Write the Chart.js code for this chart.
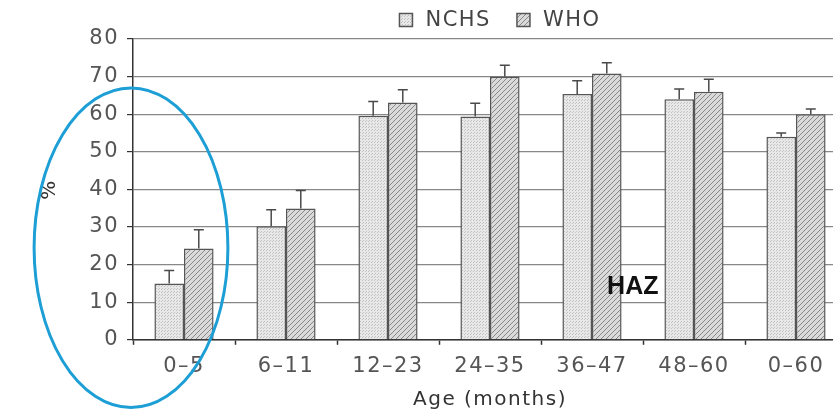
<!DOCTYPE html>
<html>
<head>
<meta charset="utf-8">
<script src="https://cdn.jsdelivr.net/npm/chart.js@4"></script>
<style>
  html, body { margin: 0; padding: 0; background: #fff; overflow: hidden; }
  #wrap { width: 833px; height: 415px; overflow: hidden; }
</style>
</head>
<body>
<div id="wrap"><canvas id="hazChart" width="850" height="415"></canvas></div>
<script>
// Age groups and HAZ prevalence (%)
const ageGroups = ['0–5', '6–11', '12–23', '24–35', '36–47', '48–60', '0–60'];
const nchsValues = [15.0, 30.2, 59.6, 59.4, 65.4, 64.0, 54.0];
const whoValues = [24.3, 34.9, 63.1, 70.0, 70.8, 66.0, 60.0];
// upper error bar lengths
const nchsErrors = [3.4, 4.4, 3.8, 3.5, 3.5, 2.7, 1.0];
const whoErrors = [5.0, 4.8, 3.4, 3.0, 2.9, 3.3, 1.4];
const yTicks = [0, 10, 20, 30, 40, 50, 60, 70, 80];

const canvas = document.getElementById('hazChart');
const ctx = canvas.getContext('2d');

// fill patterns
function dotPattern() {
  const c = document.createElement('canvas');
  c.width = 3; c.height = 3;
  const g = c.getContext('2d');
  g.fillStyle = '#e8e8e8';
  g.fillRect(0, 0, 3, 3);
  g.fillStyle = '#c2c2c2';
  g.fillRect(0, 0, 1, 1);
  g.fillRect(2, 1, 1, 1);
  return ctx.createPattern(c, 'repeat');
}
function hatchPattern() {
  const c = document.createElement('canvas');
  c.width = 5; c.height = 5;
  const g = c.getContext('2d');
  g.fillStyle = '#dadada';
  g.fillRect(0, 0, 5, 5);
  g.strokeStyle = '#888';
  g.lineWidth = 1;
  g.beginPath();
  g.moveTo(0, 5); g.lineTo(5, 0);
  g.moveTo(-1, 1); g.lineTo(1, -1);
  g.moveTo(4, 6); g.lineTo(6, 4);
  g.stroke();
  return ctx.createPattern(c, 'repeat');
}

// slightly wider text spacing like the scanned figure
const spacingPlugin = {
  id: 'spacing',
  beforeUpdate(chart) { chart.ctx.letterSpacing = '1.5px'; },
  beforeDraw(chart) { chart.ctx.letterSpacing = '1.5px'; }
};

// legend row above the plot (wider gaps than the built-in one)
const legendPlugin = {
  id: 'topLegend',
  afterDraw(chart) {
    const c = chart.ctx;
    const area = chart.chartArea;
    const box = 13, textGap = 13, itemGap = 26;
    c.save();
    c.letterSpacing = '1.5px';
    c.font = '21px "DejaVu Sans"';
    c.textBaseline = 'middle';
    c.fillStyle = '#444';
    const items = chart.data.datasets;
    const widths = items.map(ds => box + textGap + c.measureText(ds.label).width);
    const total = widths.reduce((a, b) => a + b, 0) + itemGap * (items.length - 1);
    let x = (area.left + area.right) / 2 + 10 - total / 2;
    const y = 20;
    items.forEach((ds, i) => {
      c.fillStyle = ds.backgroundColor;
      c.fillRect(x, y - box / 2, box, box);
      c.strokeStyle = '#555';
      c.lineWidth = 1.5;
      c.strokeRect(x, y - box / 2, box, box);
      c.fillStyle = '#444';
      c.fillText(ds.label, x + box + textGap, y + 1);
      x += widths[i] + itemGap;
    });
    c.restore();
  }
};

// upward error bars with caps
const errorBarPlugin = {
  id: 'errorBars',
  afterDatasetsDraw(chart) {
    const c = chart.ctx;
    const y = chart.scales.y;
    const errs = [nchsErrors, whoErrors];
    c.save();
    c.strokeStyle = '#4a4a4a';
    c.lineWidth = 1.5;
    chart.data.datasets.forEach((ds, i) => {
      chart.getDatasetMeta(i).data.forEach((bar, j) => {
        const top = y.getPixelForValue(ds.data[j] + errs[i][j]);
        c.beginPath();
        c.moveTo(bar.x, bar.y);
        c.lineTo(bar.x, top);
        c.moveTo(bar.x - 5, top);
        c.lineTo(bar.x + 5, top);
        c.stroke();
      });
    });
    c.restore();
  }
};

// "HAZ" label and the hand-drawn ellipse
const notesPlugin = {
  id: 'notes',
  afterDraw(chart) {
    const c = chart.ctx;
    const x = chart.scales.x;
    const y = chart.scales.y;
    const step = x.getPixelForValue(1) - x.getPixelForValue(0);
    c.save();
    c.letterSpacing = '0px';
    c.font = 'bold 25px "Liberation Sans"';
    c.fillStyle = '#111';
    c.textAlign = 'center';
    c.textBaseline = 'middle';
    c.fillText('HAZ', x.getPixelForValue(4) + step * 0.40, y.getPixelForValue(14));

    c.strokeStyle = '#1d9fd6';
    c.lineWidth = 3;
    c.beginPath();
    const cy = y.getPixelForValue(24.5);
    const ry = y.getPixelForValue(0) - y.getPixelForValue(42.5);
    c.ellipse(chart.chartArea.left - 2, cy, step * 0.95, ry, 0, 0, Math.PI * 2);
    c.stroke();
    c.restore();
  }
};

new Chart(ctx, {
  type: 'bar',
  data: {
    labels: ageGroups,
    datasets: [
      {
        label: 'NCHS',
        data: nchsValues,
        backgroundColor: dotPattern(),
        borderColor: '#555',
        borderWidth: 1.5
      },
      {
        label: 'WHO',
        data: whoValues,
        backgroundColor: hatchPattern(),
        borderColor: '#555',
        borderWidth: 1.5
      }
    ]
  },
  options: {
    responsive: false,
    animation: false,
    devicePixelRatio: 1,
    layout: { padding: { top: 39, right: 3, bottom: 0, left: 0 } },
    datasets: {
      bar: { categoryPercentage: 0.58, barPercentage: 1.0 }
    },
    plugins: {
      tooltip: { enabled: false },
      legend: { display: false }
    },
    scales: {
      x: {
        grid: {
          offset: true,
          drawOnChartArea: false,
          drawTicks: true,
          tickLength: 5,
          tickColor: '#333',
          tickWidth: 1.5
        },
        border: { color: '#333', width: 1.5 },
        ticks: {
          color: '#555',
          font: { family: '"DejaVu Sans"', size: 21 },
          padding: 9,
          maxRotation: 0
        },
        title: {
          display: true,
          text: 'Age (months)',
          color: '#333',
          font: { family: '"DejaVu Sans"', size: 20 },
          padding: { top: 0, bottom: 3 }
        }
      },
      y: {
        min: 0,
        max: 80,
        afterBuildTicks(scale) {
          scale.ticks = yTicks.map(v => ({ value: v }));
        },
        afterFit(scale) { scale.width = 133; },
        grid: {
          color: '#888',
          lineWidth: 1.2,
          borderDash: [3, 2],
          tickLength: 6,
          tickColor: '#333',
          tickBorderDash: []
        },
        border: { color: '#333', width: 1.5 },
        ticks: {
          color: '#555',
          font: { family: '"DejaVu Sans"', size: 21 },
          padding: 8
        },
        title: {
          display: true,
          text: '%',
          color: '#333',
          font: { family: '"DejaVu Sans"', size: 20 },
          padding: { top: 38, bottom: 0 }
        }
      }
    }
  },
  plugins: [spacingPlugin, legendPlugin, errorBarPlugin, notesPlugin]
});
</script>
</body>
</html>
